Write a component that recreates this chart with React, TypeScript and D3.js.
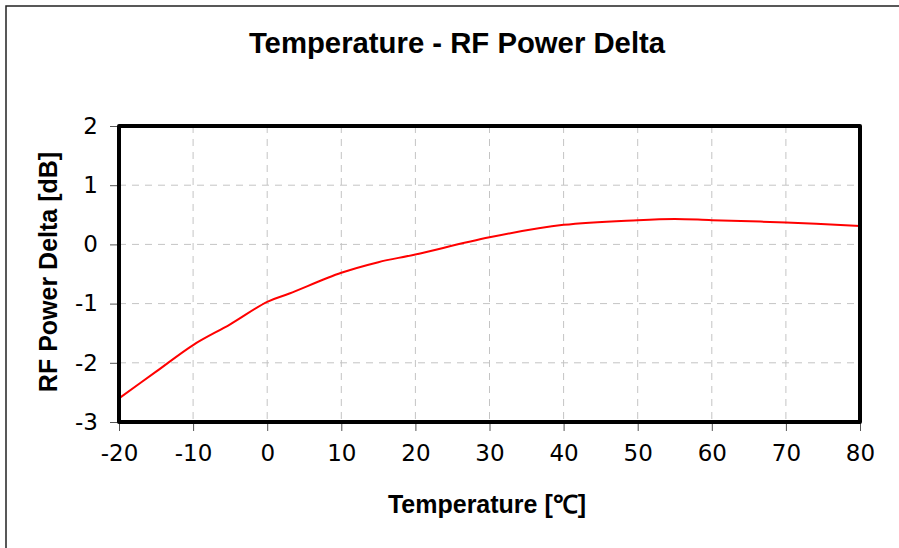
import React, { useEffect, useRef } from 'react';
import * as d3 from 'd3';

// Data
const temperatures = [-20, -15, -10, -5, 0, 3, 10, 15, 20, 30, 40, 50, 55, 60, 70, 80];
const powerDelta = [-2.6, -2.15, -1.7, -1.35, -0.97, -0.83, -0.48, -0.3, -0.17, 0.12, 0.33, 0.41, 0.43, 0.41, 0.37, 0.31];
const xTicks = [-20, -10, 0, 10, 20, 30, 40, 50, 60, 70, 80];
const yTicks = [-3, -2, -1, 0, 1, 2];

const App: React.FC = () => {
  const chartRef = useRef<SVGSVGElement>(null);

  useEffect(() => {
    if (!chartRef.current) return;
    d3.select(chartRef.current).selectAll('*').remove();

    const width = 899;
    const height = 548;
    const margin = { top: 126, right: 39, bottom: 126, left: 119 };
    const innerW = width - margin.left - margin.right;
    const innerH = height - margin.top - margin.bottom;

    const svg = d3.select(chartRef.current)
      .attr('width', width)
      .attr('height', height);

    // outer chart border
    svg.append('rect')
      .attr('x', 6)
      .attr('y', 6)
      .attr('width', 1000)
      .attr('height', 1000)
      .attr('fill', 'white')
      .attr('stroke', '#222')
      .attr('stroke-width', 1.5);

    // title
    svg.append('text')
      .attr('x', 457)
      .attr('y', 53)
      .attr('text-anchor', 'middle')
      .style('font-family', 'Arial, "Liberation Sans", sans-serif')
      .style('font-size', '29.3px')
      .style('font-weight', 'bold')
      .text('Temperature - RF Power Delta');

    const g = svg.append('g')
      .attr('transform', `translate(${margin.left},${margin.top})`);

    const x = d3.scaleLinear().domain([-20, 80]).range([0, innerW]);
    const y = d3.scaleLinear().domain([-3, 2]).range([innerH, 0]);

    // grid
    g.append('g')
      .selectAll('line')
      .data(xTicks.slice(1, -1))
      .enter()
      .append('line')
      .attr('x1', d => x(d))
      .attr('x2', d => x(d))
      .attr('y1', 0)
      .attr('y2', innerH)
      .attr('stroke', '#c4c4c4')
      .attr('stroke-width', 1)
      .attr('stroke-dasharray', '7,6');

    g.append('g')
      .selectAll('line')
      .data(yTicks.slice(1, -1))
      .enter()
      .append('line')
      .attr('x1', 0)
      .attr('x2', innerW)
      .attr('y1', d => y(d))
      .attr('y2', d => y(d))
      .attr('stroke', '#c4c4c4')
      .attr('stroke-width', 1)
      .attr('stroke-dasharray', '7,6');

    const fmt = (d: d3.NumberValue) => String(d);

    // X axis
    const xAxis = g.append('g')
      .attr('transform', `translate(0,${innerH})`)
      .call(d3.axisBottom(x).tickValues(xTicks).tickSize(9).tickPadding(14).tickFormat(fmt));
    xAxis.select('.domain').remove();
    xAxis.selectAll('line').attr('stroke', '#555');
    xAxis.selectAll('text')
      .attr('fill', '#000')
      .style('font-family', 'Tahoma, "DejaVu Sans", sans-serif')
      .style('font-size', '23px');

    // Y axis
    const yAxis = g.append('g')
      .call(d3.axisLeft(y).tickValues(yTicks).tickSize(9).tickPadding(12).tickFormat(fmt));
    yAxis.select('.domain').remove();
    yAxis.selectAll('line').attr('stroke', '#555');
    yAxis.selectAll('text')
      .attr('fill', '#000')
      .style('font-family', 'Tahoma, "DejaVu Sans", sans-serif')
      .style('font-size', '23px');

    // axis labels
    svg.append('text')
      .attr('x', 487)
      .attr('y', 513)
      .attr('text-anchor', 'middle')
      .style('font-family', 'Arial, "Liberation Sans", sans-serif')
      .style('font-size', '25px')
      .style('font-weight', 'bold')
      .text('Temperature [℃]');

    svg.append('text')
      .attr('transform', 'translate(57,272) rotate(-90)')
      .attr('text-anchor', 'middle')
      .style('font-family', 'Arial, "Liberation Sans", sans-serif')
      .style('font-size', '25px')
      .style('font-weight', 'bold')
      .text('RF Power Delta [dB]');

    // data line
    const data = temperatures.map((t, i) => ({ t, v: powerDelta[i] }));
    const line = d3.line<{ t: number; v: number }>()
      .x(d => x(d.t))
      .y(d => y(d.v))
      .curve(d3.curveCatmullRom.alpha(0.5));

    g.append('path')
      .datum(data)
      .attr('d', line)
      .attr('fill', 'none')
      .attr('stroke', '#ff0000')
      .attr('stroke-width', 2);

    // plot frame
    g.append('rect')
      .attr('x', 0)
      .attr('y', 0)
      .attr('width', innerW)
      .attr('height', innerH)
      .attr('fill', 'none')
      .attr('stroke', '#000')
      .attr('stroke-width', 4)
      .attr('stroke-linejoin', 'round');
  }, []);

  return (
    <svg ref={chartRef} style={{ position: 'absolute', left: 0, top: 0 }}></svg>
  );
};

export default App;
